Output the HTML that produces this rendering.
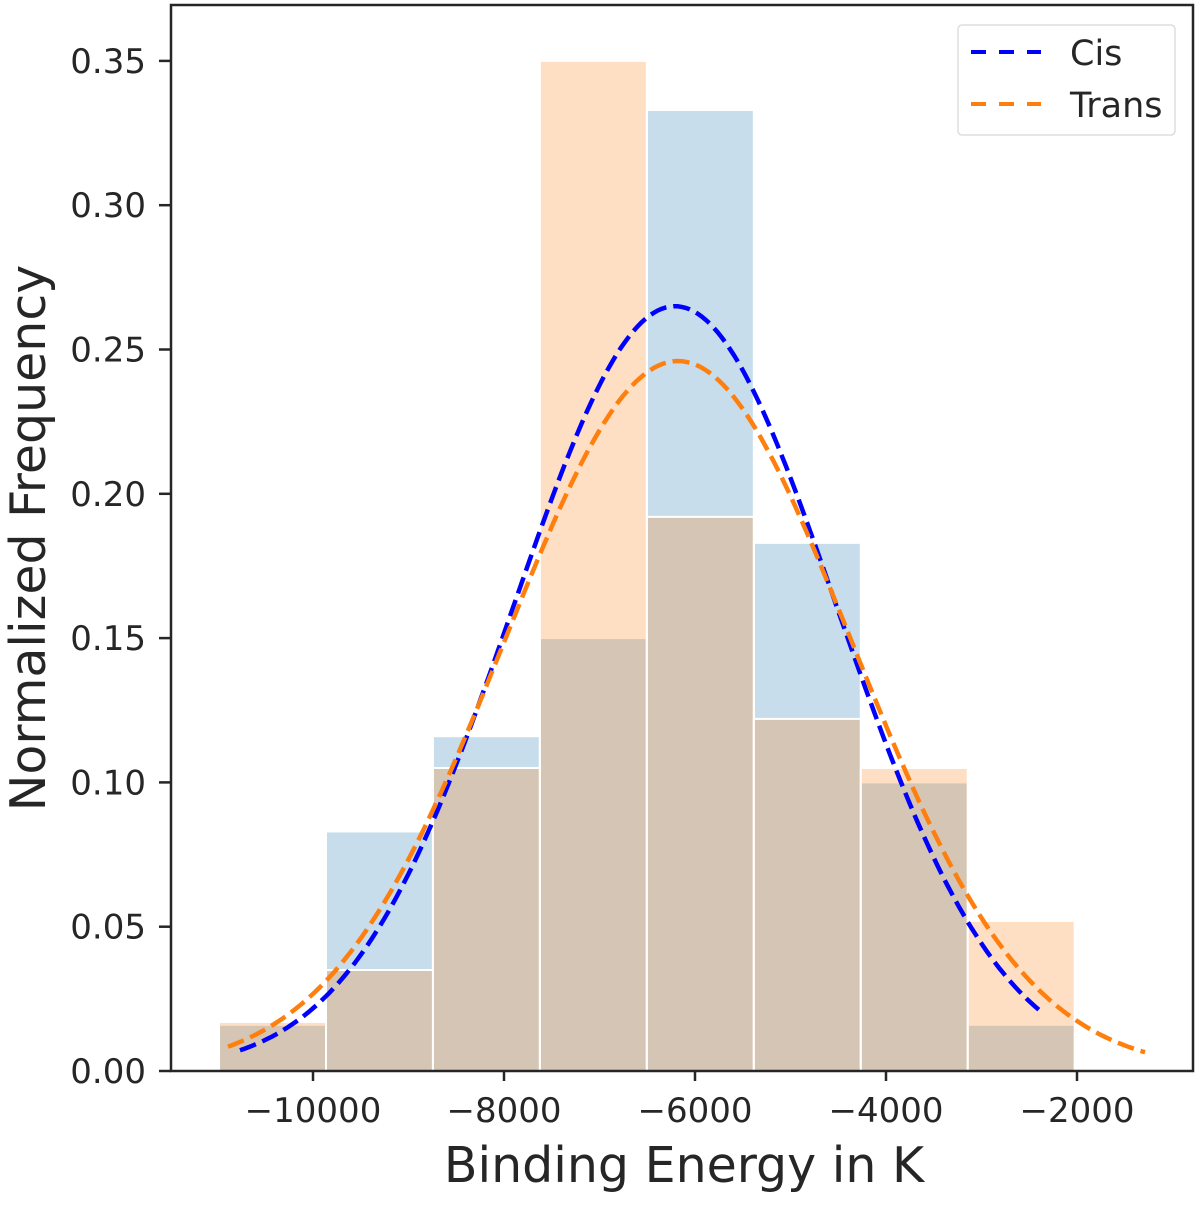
<!DOCTYPE html>
<html><head><meta charset="utf-8"><style>
body{margin:0;background:#fff}
svg text{font-family:"DejaVu Sans","Liberation Sans",sans-serif;fill:#262626}
</style></head><body>
<svg id="chart" width="1200" height="1203" viewBox="0 0 1200 1203" xmlns="http://www.w3.org/2000/svg">
<g id="bars"></g>
<g id="curves"></g>
<g id="axes"></g>
<rect x="171" y="5" width="1022" height="1066" fill="none" stroke="#262626" stroke-width="2.5"/>
<text x="684" y="1182" font-size="49" text-anchor="middle">Binding Energy in K</text>
<text transform="translate(45,538) rotate(-90)" font-size="49" text-anchor="middle">Normalized Frequency</text>
<g>
<rect x="958" y="25" width="217" height="110" rx="4" fill="#fff" fill-opacity="0.8" stroke="#ddd" stroke-width="1.5"/>
<g>
<line x1="971" y1="52" x2="1041" y2="52" stroke="#0000ff" stroke-width="4" stroke-dasharray="15,13"/>
<text x="1070" y="65" font-size="35">Cis</text>
</g>
<g>
<line x1="971" y1="104" x2="1041" y2="104" stroke="#ff7f0e" stroke-width="4" stroke-dasharray="15,13"/>
<text x="1070" y="117" font-size="35">Trans</text>
</g>
</g>
</svg>
<script>
const binEdges = [-10984,-9864,-8744,-7624,-6504,-5384,-4264,-3144,-2024];
const cisFreq = [0.016,0.083,0.116,0.150,0.333,0.183,0.100,0.016];
const transFreq = [0.017,0.035,0.105,0.350,0.192,0.122,0.105,0.052];
const fitMu = [-6209,-6178];
const fitSigma = [1695,1814];
const fitPeak = [0.265,0.246];
const fitRangeStart = [-10764,-10890];
const fitRangeEnd = [-2356,-1288];
const xTicks = [-10000,-8000,-6000,-4000,-2000];
const xTickLabels = ["\u221210000","\u22128000","\u22126000","\u22124000","\u22122000"];
const yTicks = [0,0.05,0.10,0.15,0.20,0.25,0.30,0.35];
const yTickLabels = ["0.00","0.05","0.10","0.15","0.20","0.25","0.30","0.35"];

const NS="http://www.w3.org/2000/svg";
function xs(v){return 313+(v+10000)*764/8000;}
function ys(v){return 1071-v*2886;}
function mk(tag,attrs,parent){const e=document.createElementNS(NS,tag);for(const k in attrs)e.setAttribute(k,attrs[k]);parent.appendChild(e);return e;}

const bars=document.getElementById('bars');
[[cisFreq,'#1f77b4','cis'],[transFreq,'#ff7f0e','trans']].forEach(([arr,col,nm])=>{
  arr.forEach((v,i)=>{
    const x0=xs(binEdges[i]),x1=xs(binEdges[i+1]);
    const r=mk('rect',{x:x0,y:ys(v),width:x1-x0,height:ys(0)-ys(v),fill:col,'fill-opacity':0.25,stroke:'#fff','stroke-width':2},bars);
    
    
  });
});

const curves=document.getElementById('curves');
const cols=['#0000ff','#ff7f0e'],names=['cis','trans'];
for(let s=0;s<2;s++){
  let d='';
  const n=200;
  for(let k=0;k<=n;k++){
    const v=fitRangeStart[s]+(fitRangeEnd[s]-fitRangeStart[s])*k/n;
    const y=fitPeak[s]*Math.exp(-Math.pow(v-fitMu[s],2)/(2*fitSigma[s]*fitSigma[s]));
    d+=(k?'L':'M')+xs(v).toFixed(1)+','+ys(y).toFixed(1);
  }
  const p=mk('path',{d:d,fill:'none',stroke:cols[s],'stroke-width':4.5,'stroke-dasharray':'17,7'},curves);
  
  
}

const axes=document.getElementById('axes');
xTicks.forEach((v,i)=>{
  const l=mk('line',{x1:xs(v),x2:xs(v),y1:1071,y2:1081,stroke:'#262626','stroke-width':2.5},axes);
  
  
  const t=mk('text',{x:xs(v),y:1122,'font-size':34,'text-anchor':'middle'},axes);
  t.textContent=xTickLabels[i];
  
  
});
yTicks.forEach((v,i)=>{
  const l=mk('line',{x1:159,x2:171,y1:ys(v),y2:ys(v),stroke:'#262626','stroke-width':2.5},axes);
  
  
  const t=mk('text',{x:146,y:ys(v)+12,'font-size':34,'text-anchor':'end'},axes);
  t.textContent=yTickLabels[i];
  
  
});
</script>
</body></html>
